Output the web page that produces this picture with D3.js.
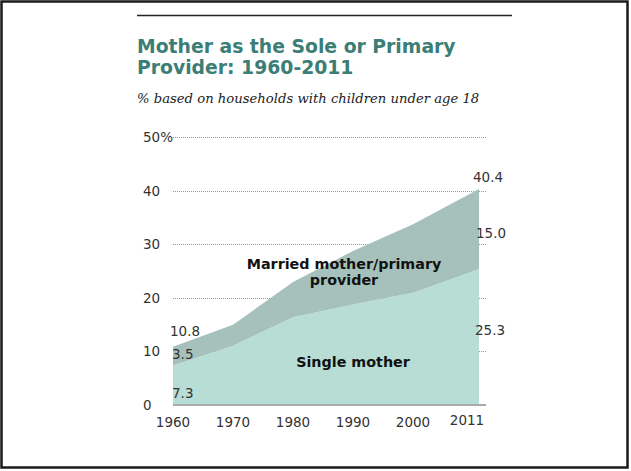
<!DOCTYPE html>
<html><head><meta charset="utf-8">
<script src="https://cdn.jsdelivr.net/npm/d3@7"></script>
<style>body{margin:0;background:#fff}svg{display:block}</style>
</head><body>
<svg id="c" width="631" height="471"></svg>
<script>
const years = [1960, 1970, 1980, 1990, 2000, 2011];
const singleMother = [7.3, 11.0, 16.3, 18.7, 20.9, 25.3];
const marriedMother = [3.5, 3.9, 6.6, 10.0, 12.8, 15.0];
const yTicks = [0, 10, 20, 30, 40, 50];
const xTickLabels = ["1960", "1970", "1980", "1990", "2000", "2011"];

const svg = d3.select("#c");
const x = d3.scaleLinear().domain([1960, 2011]).range([173, 479]);
const y = d3.scaleLinear().domain([0, 50]).range([404.5, 137]);

// frame
svg.append("rect").attr("x", 1.5).attr("y", 1.5).attr("width", 626).attr("height", 466)
  .attr("fill", "none").attr("stroke", "#1a1a1a").attr("stroke-width", 2.5);
// top rule
svg.append("line").attr("x1", 137).attr("x2", 512).attr("y1", 15.5).attr("y2", 15.5)
  .attr("stroke", "#222").attr("stroke-width", 1.6);

// title
const title = svg.append("text").attr("fill", "#3c7d75")
  .style("font-family", "DejaVu Sans").style("font-weight", "bold").style("font-size", "18.8px");
title.append("tspan").attr("x", 137).attr("y", 53).text("Mother as the Sole or Primary");
title.append("tspan").attr("x", 137).attr("y", 74).text("Provider: 1960-2011");
svg.append("text").attr("x", 137).attr("y", 103).attr("fill", "#222")
  .style("font-family", "DejaVu Serif").style("font-style", "italic").style("font-size", "13.2px")
  .text("% based on households with children under age 18");

// grid
svg.append("g").selectAll("line").data(yTicks.filter(d => d > 0)).join("line")
  .attr("x1", 173).attr("x2", 486).attr("y1", d => Math.round(y(d)) + 0.5).attr("y2", d => Math.round(y(d)) + 0.5)
  .attr("stroke", "#999").attr("stroke-dasharray", "1,1");

const data = years.map((yr, i) => ({yr, s: singleMother[i], m: marriedMother[i]}));
const stack = d3.stack().keys(["s", "m"])(data);
const area = d3.area().x(d => x(d.data.yr)).y0(d => y(d[0])).y1(d => y(d[1]));
const fills = ["#b7ddd4", "#a6c1bb"];
svg.append("g").selectAll("path").data(stack).join("path")
  .attr("d", area).attr("fill", (d, i) => fills[i]);

// baseline
svg.append("line").attr("x1", 173).attr("x2", 486).attr("y1", y(0) + 0.5).attr("y2", y(0) + 0.5)
  .attr("stroke", "#aaa").attr("stroke-width", 2);

const axisFont = g => g.style("font-family", "DejaVu Sans").style("font-size", "13.5px").attr("fill", "#333");
// y labels
svg.append("g").call(axisFont).selectAll("text").data(yTicks).join("text")
  .attr("x", 143).attr("y", d => y(d) + 5).text(d => d === 50 ? "50%" : d);
// x labels
svg.append("g").call(axisFont).selectAll("text").data(years).join("text")
  .attr("x", (d, i) => i === 5 ? x(d) - 12 : x(d)).attr("y", (d, i) => i === 5 ? 425 : 427)
  .attr("text-anchor", "middle").text((d, i) => xTickLabels[i]);

// value labels
const last = data.length - 1;
const vals = [
  {t: (singleMother[0] + marriedMother[0]).toFixed(1), x: 170, y: 336},
  {t: marriedMother[0].toFixed(1), x: 172, y: 359},
  {t: singleMother[0].toFixed(1), x: 172, y: 398},
  {t: "40.4", x: 473, y: 182},
  {t: marriedMother[last].toFixed(1), x: 476, y: 238},
  {t: singleMother[last].toFixed(1), x: 475, y: 335}
];
svg.append("g").call(axisFont).selectAll("text").data(vals).join("text")
  .attr("x", d => d.x).attr("y", d => d.y).text(d => d.t);

// series labels
const lab = svg.append("g").style("font-family", "DejaVu Sans").style("font-weight", "bold")
  .style("font-size", "14.3px").attr("fill", "#111").attr("text-anchor", "middle");
lab.append("text").attr("x", 344).attr("y", 269).text("Married mother/primary");
lab.append("text").attr("x", 344).attr("y", 285).text("provider");
lab.append("text").attr("x", 353).attr("y", 367).text("Single mother");
</script>
</body></html>
